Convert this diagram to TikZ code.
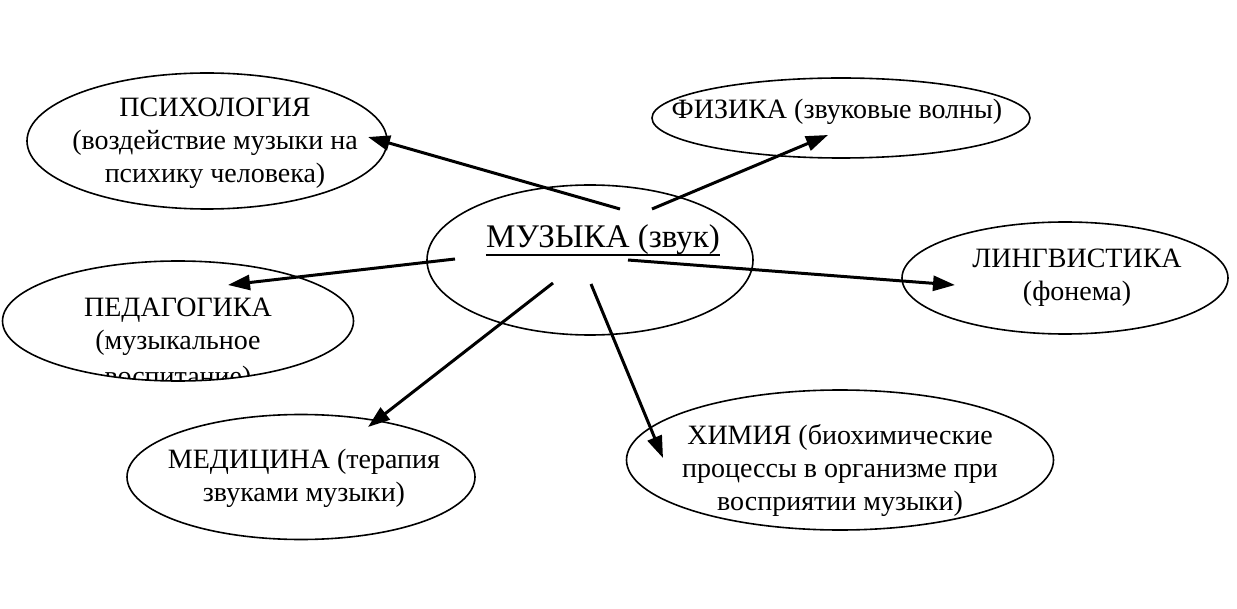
\documentclass[tikz,border=0pt]{standalone}
\usepackage{fontspec}
\setmainfont{Liberation Serif}
\usetikzlibrary{arrows.meta,shapes.geometric}

\tikzset{
  topic/.style={draw,ellipse,line width=0.8pt,inner sep=0pt},
  txt/.style={align=center,inner sep=0pt,font=\fontsize{14}{16.5}\selectfont},
  link/.style={-{Triangle[length=11pt,width=7.5pt]},line width=1.5pt},
}

\begin{document}
\begin{tikzpicture}[x=0.5pt,y=-0.5pt]
\useasboundingbox (0,0) rectangle (1237,609);

% ellipses
\node[topic,minimum width=180pt,minimum height=68pt] (psy) at (207,141) {};
\node[topic,minimum width=189pt,minimum height=40pt] (fiz) at (841,118) {};
\node[topic,minimum width=163pt,minimum height=75pt] (muz) at (590,260) {};
\node[topic,minimum width=163pt,minimum height=56pt] (lin) at (1065,278) {};
\node[topic,minimum width=175.5pt,minimum height=60pt] (ped) at (178,321) {};
\node[topic,minimum width=174pt,minimum height=62.5pt] (med) at (301,477) {};
\node[topic,minimum width=213.5pt,minimum height=70pt] (him) at (840,460) {};

% texts
\node[txt] (psy-t) at (215,143) {ПСИХОЛОГИЯ\\(воздействие музыки на\\психику человека)};
\node[txt] (fiz-t) at (837,112) {ФИЗИКА (звуковые волны)};
\node[txt,font=\fontsize{16.5}{19}\selectfont] (muz-t) at (603,240) {МУЗЫКА (звук)};
\draw[line width=1pt] ([yshift=-3.5pt]muz-t.base west) -- ([yshift=-3.5pt]muz-t.base east);
\node[txt] (lin-t) at (1077,278) {ЛИНГВИСТИКА\\(фонема)};
\node[txt] (ped-t) at (178,327) {ПЕДАГОГИКА\\(музыкальное};
\begin{scope}
  \clip (ped.center) ellipse [x radius=87.75pt,y radius=30pt];
  \node[txt] (ped-t2) at (178,379) {воспитание)};
\end{scope}
\node[txt] (med-t) at (304,478) {МЕДИЦИНА (терапия\\звуками музыки)};
\node[txt] (him-t) at (840,470) {ХИМИЯ (биохимические\\процессы в организме при\\восприятии музыки)};

% arrow ends
\coordinate (m-psy) at (620,209);  \coordinate (e-psy) at (368,137);
\coordinate (m-fiz) at (652,209);  \coordinate (e-fiz) at (828,135);
\coordinate (m-lin) at (628,260);  \coordinate (e-lin) at (955,285);
\coordinate (m-ped) at (455,259);  \coordinate (e-ped) at (228,285);
\coordinate (m-med) at (553,283);  \coordinate (e-med) at (368,427);
\coordinate (m-him) at (591,284);  \coordinate (e-him) at (663,458);

\draw[link] (m-psy) -- (e-psy);
\draw[link] (m-fiz) -- (e-fiz);
\draw[link] (m-lin) -- (e-lin);
\draw[link] (m-ped) -- (e-ped);
\draw[link] (m-med) -- (e-med);
\draw[link] (m-him) -- (e-him);
\end{tikzpicture}
\end{document}
